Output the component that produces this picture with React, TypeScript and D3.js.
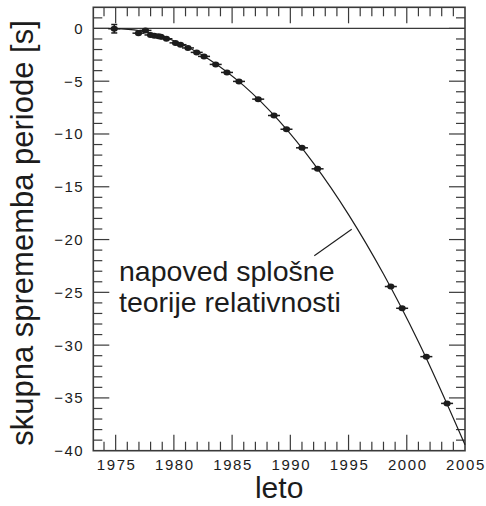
import React from "react";
import * as d3 from "d3";

// Observed cumulative period shift (data points)
const obsYears = [1974.88, 1976.96, 1977.56, 1977.99, 1978.32, 1978.68, 1978.89, 1979.36, 1980.14, 1980.57, 1981.21, 1981.96, 1982.59, 1983.59, 1984.56, 1985.59, 1987.24, 1988.6, 1989.67, 1991.0, 1992.34, 1998.63, 1999.6, 2001.68, 2003.46];
const obsValues = [-0.03, -0.45, -0.19, -0.62, -0.69, -0.74, -0.79, -0.98, -1.37, -1.54, -1.85, -2.27, -2.65, -3.41, -4.17, -5.02, -6.7, -8.25, -9.55, -11.31, -13.3, -24.45, -26.51, -31.09, -35.52];
const obsErrors = [0.4, 0.1, 0.1, 0.1, 0.1, 0.1, 0.1, 0.1, 0.1, 0.1, 0.1, 0.1, 0.1, 0.1, 0.1, 0.1, 0.1, 0.1, 0.1, 0.1, 0.1, 0.1, 0.1, 0.1, 0.1];

// GR prediction curve
const curveYears = [1974.8, 1977, 1980, 1983, 1986, 1989, 1992, 1995, 1998, 2001, 2005];
const curveValues = [0, -0.21, -1.17, -2.91, -5.42, -8.72, -12.79, -17.64, -23.27, -29.68, -39.44];

const xTickLabels = [1975, 1980, 1985, 1990, 1995, 2000, 2005];
const yTickLabels = [0, -5, -10, -15, -20, -25, -30, -35, -40];

const yAxisTitle = "skupna sprememba periode [s]";
const xAxisTitle = "leto";
const annotationLines = ["napoved splošne", "teorije relativnosti"];

const W = 486;
const H = 506;
const left = 93.3;
const right = 465;
const top = 7.3;
const bottom = 450.7;

const FONT = "'Liberation Sans', Arial, Helvetica, sans-serif";
const INK = "#1c1c1c";
const FRAME = "#3a3a3a";

export default function App() {
  const x = d3.scaleLinear().domain([1973.08, 2005]).range([left, right]);
  const y = d3.scaleLinear().domain([-40, 2]).range([bottom, top]);

  const minorX = d3.range(1974, 2005, 1);
  const minorY = d3.range(-39, 2, 1);

  const line = d3
    .line<number>()
    .x((_, i) => x(curveYears[i]))
    .y((d) => y(d))
    .curve(d3.curveMonotoneX);

  const majLen = 16;
  const minLen = 9;

  return (
    <svg
      width={W}
      height={H}
      style={{ position: "absolute", left: 0, top: 0, background: "#fff" }}
    >
      <rect x={0} y={0} width={W} height={H} fill="#fff" />
      {/* zero line */}
      <line x1={left} x2={right} y1={y(0)} y2={y(0)} stroke={FRAME} strokeWidth={1.3} />

      {/* x ticks bottom/top */}
      {minorX.map((yr) => {
        const major = yr % 5 === 0;
        const L = major ? majLen : minLen;
        return (
          <g key={"xt" + yr}>
            <line x1={x(yr)} x2={x(yr)} y1={bottom} y2={bottom - L} stroke={FRAME} strokeWidth={1.2} />
            <line x1={x(yr)} x2={x(yr)} y1={top} y2={top + L} stroke={FRAME} strokeWidth={1.2} />
          </g>
        );
      })}
      {/* y ticks left/right */}
      {minorY.map((v) => {
        const major = v % 5 === 0;
        const L = major ? majLen : minLen;
        return (
          <g key={"yt" + v}>
            <line x1={left} x2={left + L} y1={y(v)} y2={y(v)} stroke={FRAME} strokeWidth={1.2} />
            <line x1={right} x2={right - L} y1={y(v)} y2={y(v)} stroke={FRAME} strokeWidth={1.2} />
          </g>
        );
      })}

      {/* frame */}
      <rect x={left} y={top} width={right - left} height={bottom - top} fill="none" stroke={FRAME} strokeWidth={1.6} />

      {/* x tick labels */}
      {xTickLabels.map((yr) => (
        <text
          key={"xl" + yr}
          x={x(yr) + 1}
          y={470}
          textAnchor="middle"
          fontFamily={FONT}
          fontSize={15}
          letterSpacing={1.6}
          fill={INK}
        >
          {yr}
        </text>
      ))}
      {/* y tick labels */}
      {yTickLabels.map((v) => (
        <text
          key={"yl" + v}
          x={84}
          y={y(v) + 5.5}
          textAnchor="end"
          fontFamily={FONT}
          fontSize={15}
          letterSpacing={1.4}
          fill={INK}
        >
          {v < 0 ? "\u2212" + Math.abs(v) : String(v)}
        </text>
      ))}

      {/* prediction curve */}
      <path d={line(curveValues) || ""} fill="none" stroke={INK} strokeWidth={1.2} />

      {/* data points */}
      {obsYears.map((yr, i) => {
        const cx = x(yr);
        const cy = y(obsValues[i]);
        const e = obsErrors[i];
        const y1 = y(obsValues[i] + e);
        const y2 = y(obsValues[i] - e);
        return (
          <g key={"p" + i}>
            <line x1={cx - 6} x2={cx + 6} y1={cy} y2={cy} stroke={INK} strokeWidth={1.5} />
            {e > 0.2 && (
              <g>
                <line x1={cx} x2={cx} y1={y1} y2={y2} stroke={INK} strokeWidth={1.5} />
                <line x1={cx - 3} x2={cx + 3} y1={y1} y2={y1} stroke={INK} strokeWidth={1.5} />
                <line x1={cx - 3} x2={cx + 3} y1={y2} y2={y2} stroke={INK} strokeWidth={1.5} />
              </g>
            )}
            <ellipse cx={cx} cy={cy} rx={3.6} ry={3} fill={INK} />
          </g>
        );
      })}

      {/* annotation leader */}
      <line x1={314.3} x2={351.7} y1={255.7} y2={229.3} stroke={INK} strokeWidth={1.1} />
      {annotationLines.map((t, i) => (
        <text
          key={"an" + i}
          x={119}
          y={281 + i * 31}
          fontFamily={FONT}
          fontSize={28.5}
          fill={INK}
        >
          {t}
        </text>
      ))}

      {/* axis titles */}
      <text
        x={(left + right) / 2}
        y={498}
        textAnchor="middle"
        fontFamily={FONT}
        fontSize={30}
        fill={INK}
      >
        {xAxisTitle}
      </text>
      <text
        transform={`translate(33, ${(top + bottom) / 2 + 4}) rotate(-90)`}
        textAnchor="middle"
        fontFamily={FONT}
        fontSize={31}
        fill={INK}
      >
        {yAxisTitle}
      </text>
    </svg>
  );
}
